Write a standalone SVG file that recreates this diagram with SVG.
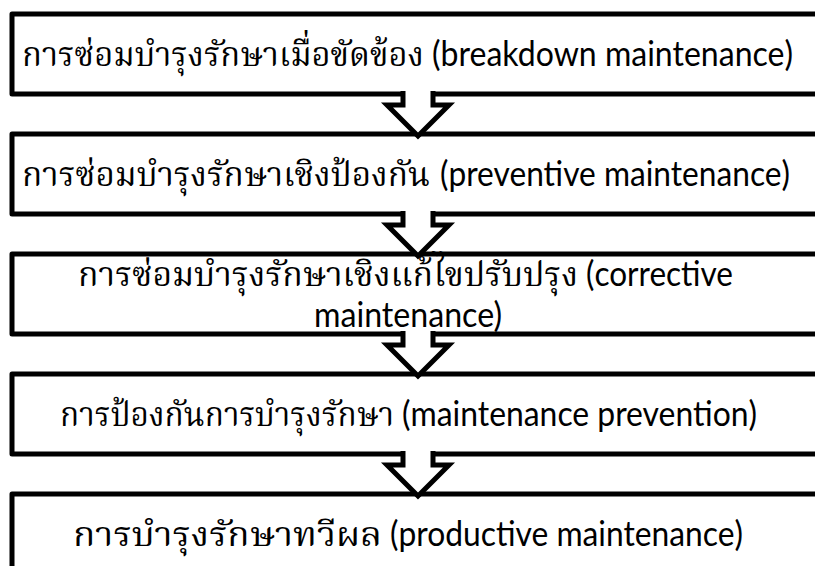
<svg xmlns="http://www.w3.org/2000/svg" width="815" height="566" viewBox="0 0 815 566">
  <style>
    .box { fill: #ffffff; stroke: #000000; stroke-width: 5; stroke-linejoin: round; }
    .arrow { fill: #ffffff; stroke: #000000; stroke-width: 5; stroke-linejoin: miter; }
    .th { font-family: "Noto Serif Thai", "Noto Sans Thai", "Loma", "Garuda", "Liberation Serif", serif; font-size: 34px; fill: #000000; }
    .en { font-family: "Lato", "Liberation Sans", sans-serif; font-size: 35px; fill: #000000; }
  </style>

  <rect width="815" height="566" fill="#ffffff"/>

  <g id="node-breakdown">
    <rect class="box" x="12" y="14" width="820" height="80"/>
    <text y="66"><tspan class="th" x="22" textLength="402" lengthAdjust="spacingAndGlyphs">การซ่อมบำรุงรักษาเมื่อขัดข้อง</tspan><tspan class="en" x="432" textLength="361" lengthAdjust="spacingAndGlyphs">(breakdown maintenance)</tspan></text>
  </g>

  <g id="node-preventive">
    <rect class="box" x="12" y="134" width="820" height="80"/>
    <text y="186"><tspan class="th" x="22" textLength="408" lengthAdjust="spacingAndGlyphs">การซ่อมบำรุงรักษาเชิงป้องกัน</tspan><tspan class="en" x="440" textLength="350" lengthAdjust="spacingAndGlyphs">(preventive maintenance)</tspan></text>
  </g>

  <g id="node-corrective">
    <rect class="box" x="12" y="254" width="820" height="80"/>
    <text y="286"><tspan class="th" x="78" textLength="500" lengthAdjust="spacingAndGlyphs">การซ่อมบำรุงรักษาเชิงแก้ไขปรับปรุง</tspan><tspan class="en" x="586" textLength="147" lengthAdjust="spacingAndGlyphs">(corrective</tspan></text>
    <text class="en" x="314" y="327" textLength="188" lengthAdjust="spacingAndGlyphs">maintenance)</text>
  </g>

  <g id="node-prevention">
    <rect class="box" x="12" y="374" width="820" height="80"/>
    <text y="426"><tspan class="th" x="60" textLength="334" lengthAdjust="spacingAndGlyphs">การป้องกันการบำรุงรักษา</tspan><tspan class="en" x="402" textLength="355" lengthAdjust="spacingAndGlyphs">(maintenance prevention)</tspan></text>
  </g>

  <g id="node-productive">
    <rect class="box" x="12" y="494" width="820" height="80"/>
    <text y="546"><tspan class="th" x="73" textLength="309" lengthAdjust="spacingAndGlyphs">การบำรุงรักษาทวีผล</tspan><tspan class="en" x="390" textLength="353" lengthAdjust="spacingAndGlyphs">(productive maintenance)</tspan></text>
  </g>

  <!-- block arrows between stages; open paths so the top edge is not stroked -->
  <g id="connectors">
    <path class="arrow" d="M403,91 V105 H387 L418,136 L449,105 H433 V91"/>
    <path class="arrow" d="M403,211 V225 H387 L418,256 L449,225 H433 V211"/>
    <path class="arrow" d="M403,331 V345 H387 L418,376 L449,345 H433 V331"/>
    <path class="arrow" d="M403,451 V465 H387 L418,496 L449,465 H433 V451"/>
  </g>
</svg>
